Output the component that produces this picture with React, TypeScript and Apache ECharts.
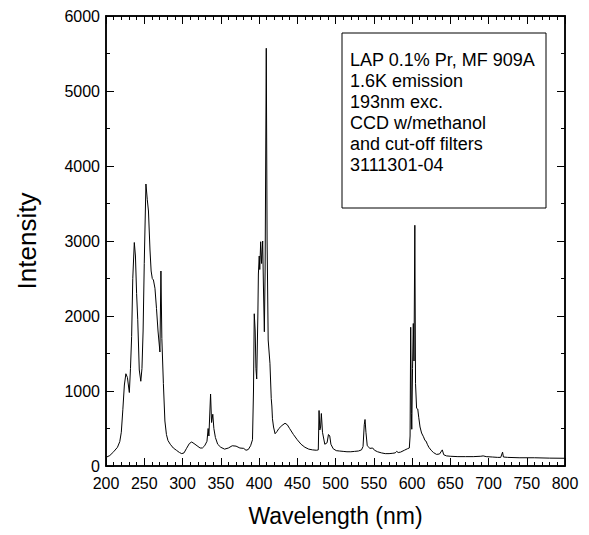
import React, { useEffect, useRef } from "react";
import * as echarts from "echarts";

const wavelength: number[] = [
  200, 205, 210, 215, 218, 220, 222, 224, 226, 228, 230.5, 232, 233.5, 235, 237, 238.5, 240, 241.5, 243.5, 245.5,
  247, 248.5, 250, 252.2, 254, 255.5, 257.5, 259, 260.5, 262, 264, 266, 268, 270.5, 271.8, 273, 275, 277, 279, 281,
  284, 288, 292, 296, 299, 302, 305, 309, 312, 315, 319, 323, 326, 329, 332, 333.5, 334.5, 336.7, 338, 339.6,
  341, 343, 346, 350, 355, 360, 365, 370, 375, 380, 383, 386, 389, 391.5, 392.8, 393.8, 395, 396, 397, 398.5,
  399.2, 400.3, 401, 402.2, 403.4, 404.8, 405.8, 407, 408, 409.5, 410.6, 412, 414.3, 416, 416.8, 417.6, 419, 421, 423.5, 426,
  430, 434, 437, 440, 445, 450, 455, 460, 465, 470, 475, 477.5, 478.5, 479.5, 480.5, 481.5, 483, 486, 489, 490.8,
  492.5, 494, 497, 501, 505, 510, 515, 520, 525, 530, 534, 536, 537.6, 538.6, 539.8, 541.5, 545, 548.6, 551, 555,
  560, 565, 570, 575, 578, 580, 582, 585, 590, 594, 596.5, 597.5, 598.3, 599.2, 599.7, 600.7, 601.7, 602.6, 603.7, 604.6,
  606, 607.5, 608.8, 610.5, 612.5, 615, 617, 618.5, 620, 622, 625, 628, 632, 636, 639.6, 641.5, 645, 650, 660, 670,
  680, 690, 693, 697, 705, 712, 716, 718.4, 719.5, 725, 740, 760, 780, 800,
];

const intensity: number[] = [
  115, 140, 190, 250, 325, 450, 750, 1080, 1230, 1180, 980, 1300, 1725, 2500, 2980, 2800, 2300, 1950, 1280, 1130,
  1300, 1800, 2700, 3760, 3550, 3400, 2880, 2600, 2500, 2480, 2370, 2100, 1800, 1520, 2600, 1700, 1100, 600, 420, 340,
  290, 240, 210, 180, 165, 175, 230, 300, 320, 300, 270, 240, 240, 270, 330, 500, 400, 960, 580, 690,
  500, 380, 290, 250, 225, 240, 270, 265, 240, 235, 210, 220, 270, 350, 1000, 2030, 1800, 1300, 1160, 2000,
  2560, 2800, 2620, 2990, 2700, 3000, 2400, 1790, 2600, 5570, 3000, 1680, 1370, 900, 800, 630, 520, 430, 460, 500,
  540, 570, 550, 500, 420, 350, 290, 250, 225, 215, 210, 215, 740, 480, 520, 700, 450, 290, 310, 420,
  400, 290, 230, 205, 200, 195, 190, 190, 195, 200, 215, 260, 550, 620, 450, 270, 235, 240, 210, 190,
  175, 165, 165, 170, 175, 195, 180, 185, 210, 230, 240, 400, 1850, 700, 490, 1300, 1900, 1400, 3210, 1100,
  770, 760, 650, 520, 440, 390, 340, 330, 290, 250, 210, 180, 155, 160, 215, 150, 135, 130, 125, 125,
  125, 130, 135, 125, 120, 115, 115, 185, 120, 115, 110, 110, 105, 103,
];

const legendLines: string[] = [
  "LAP 0.1% Pr, MF 909A",
  "1.6K emission",
  "193nm exc.",
  "CCD w/methanol",
  "and cut-off filters",
  "3111301-04",
];

const xTitle = "Wavelength (nm)";
const yTitle = "Intensity";

const FONT = '"Liberation Sans", Arial, Helvetica, sans-serif';
const GRID = { left: 106, top: 16, right: 24, bottom: 69 };

function axisLineOpt() {
  return { show: true, onZero: false, lineStyle: { color: "#000", width: 1.5 } };
}
function axisTickOpt() {
  return { show: true, inside: true, length: 8 };
}
function minorTickOpt(split: number) {
  return { show: true, splitNumber: split, length: 4, lineStyle: { color: "#000", width: 1 } };
}

function xAxisOpt(position: string, showLabels: boolean) {
  return {
    type: "value",
    min: 200,
    max: 800,
    interval: 50,
    position,
    axisLine: axisLineOpt(),
    axisTick: axisTickOpt(),
    minorTick: minorTickOpt(5),
    splitLine: { show: false },
    axisLabel: showLabels
      ? { show: true, color: "#000", fontSize: 16, fontFamily: FONT, margin: 9, formatter: (v: number) => String(v) }
      : { show: false },
  };
}

function yAxisOpt(position: string, showLabels: boolean) {
  return {
    type: "value",
    min: 0,
    max: 6000,
    interval: 1000,
    position,
    axisLine: axisLineOpt(),
    axisTick: axisTickOpt(),
    minorTick: minorTickOpt(2),
    splitLine: { show: false },
    axisLabel: showLabels
      ? { show: true, color: "#000", fontSize: 16, fontFamily: FONT, margin: 6, formatter: (v: number) => String(v) }
      : { show: false },
  };
}

export default function App() {
  const ref = useRef<HTMLDivElement | null>(null);
  const tickRef = useRef<HTMLDivElement | null>(null);

  useEffect(() => {
    if (!ref.current || !tickRef.current) return;
    const chart = echarts.init(ref.current, undefined, { renderer: "svg" });
    const tickChart = echarts.init(tickRef.current, undefined, { renderer: "svg" });

    const data = wavelength.map((w, i) => [w, intensity[i]]);

    const x0: any = xAxisOpt("bottom", true);
    Object.assign(x0, {
      name: xTitle,
      nameLocation: "middle",
      nameGap: 38,
      nameTextStyle: { color: "#000", fontSize: 23, fontFamily: FONT },
    });
    const y0: any = yAxisOpt("left", true);
    Object.assign(y0, {
      name: yTitle,
      nameLocation: "middle",
      nameGap: 66,
      nameTextStyle: { color: "#000", fontSize: 26, fontFamily: FONT },
    });

    const option: any = {
      animation: false,
      backgroundColor: "#fff",
      grid: { ...GRID, containLabel: false, outerBoundsMode: "none" },
      xAxis: [x0, xAxisOpt("top", false)],
      yAxis: [y0, yAxisOpt("right", false)],
      series: [
        {
          type: "line",
          xAxisIndex: 0,
          yAxisIndex: 0,
          data,
          symbol: "none",
          lineStyle: { color: "#000", width: 1 },
        },
      ],
      graphic: [
        {
          type: "rect",
          shape: { x: 342, y: 33, width: 204, height: 175 },
          style: { fill: "#fff", stroke: "#000", lineWidth: 1 },
          z: 100,
        },
        {
          type: "text",
          x: 350,
          y: 49.5,
          style: {
            text: legendLines.join("\n"),
            font: `18px ${FONT}`,
            fill: "#000",
            lineHeight: 21,
            verticalAlign: "top",
            align: "left",
          },
          z: 101,
        },
      ],
    };
    chart.setOption(option);

    // Overlay with the same axes (no labels) so that the inward tick marks are drawn.
    const tickOption: any = {
      animation: false,
      backgroundColor: "transparent",
      grid: { ...GRID },
      xAxis: [xAxisOpt("bottom", false), xAxisOpt("top", false)],
      yAxis: [yAxisOpt("left", false), yAxisOpt("right", false)],
      series: [],
    };
    tickChart.setOption(tickOption);

    return () => {
      chart.dispose();
      tickChart.dispose();
    };
  }, []);

  return (
    <div style={{ position: "absolute", left: 0, top: 0, width: 589, height: 535 }}>
      <div ref={ref} style={{ position: "absolute", left: 0, top: 0, width: 589, height: 535 }} />
      <div
        ref={tickRef}
        style={{ position: "absolute", left: 0, top: 0, width: 589, height: 535, pointerEvents: "none" }}
      />
    </div>
  );
}
